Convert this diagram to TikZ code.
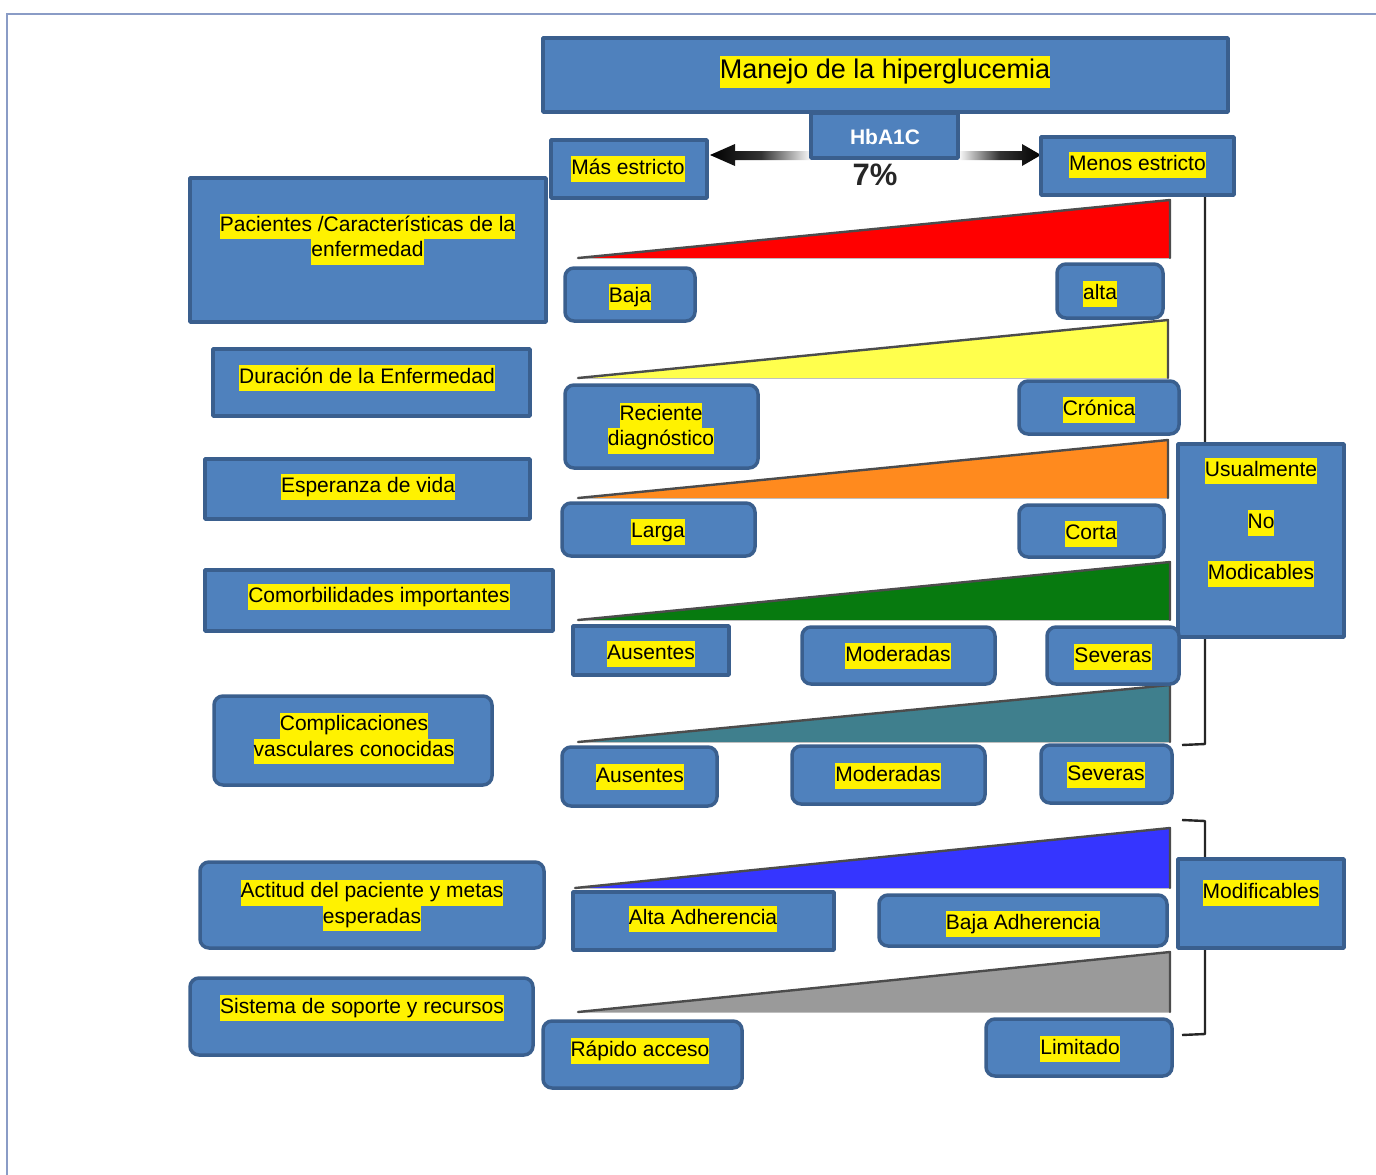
\documentclass[tikz,border=0pt]{standalone}
\usepackage{fontspec}
\setmainfont{Liberation Sans}
\usetikzlibrary{shapes.geometric}
\definecolor{boxfill}{HTML}{4F81BD}
\definecolor{boxline}{HTML}{3A5F8E}
\definecolor{framec}{HTML}{8A9CC6}
\definecolor{triRed}{HTML}{FF0000}
\definecolor{triYel}{HTML}{FFFF4D}
\definecolor{triOra}{HTML}{FF8A1E}
\definecolor{triGre}{HTML}{077A0F}
\definecolor{triTea}{HTML}{3F7F8D}
\definecolor{triBlu}{HTML}{3535FF}
\definecolor{triGra}{HTML}{9A9A9A}
\setlength{\fboxsep}{0pt}
\newcommand\hl[1]{\colorbox{yellow}{\strut #1}}
\newcommand\lblfont{\fontsize{21}{25.5}\selectfont}
\newcommand\mkbox[6][]{\node[boxst,#1,minimum width={(#5-#3)*1pt},minimum height={(#6-#4)*1pt}] (#2) at ({(#3+#5)/2},{(#4+#6)/2}) {};}
\newcommand\mkwedge[5]{\fill[#1] (#2,#4) -- (#3,#5) -- (#3,#4) -- cycle;
  \draw[black!25,line width=1pt] (#2,#4) -- (#3,#4);
  \draw[black!70,line width=2.4pt,line join=round,line cap=round] (#2,#4) -- (#3,#5) -- (#3,#4);}
\tikzset{
  boxst/.style={draw=boxline,fill=boxfill,line width=3.5pt,inner sep=0pt,rectangle,line join=round},
  rbox/.style={rounded corners=9pt},
  lbl/.style={font=\lblfont,inner sep=0pt,align=center,text=black,yshift=-2pt},
  brk/.style={draw=black!85,line width=2.4pt,line join=round}
}
\begin{document}
\begin{tikzpicture}[x=1pt,y=-1pt]
\useasboundingbox (0,0) rectangle (1376,1175);
% frame
\draw[framec,line width=2.5pt] (7,1176) -- (7,14) -- (1377,14);
% wedges
\mkwedge{triRed}{578}{1170}{258}{200}
\mkwedge{triYel}{578}{1168}{378}{320}
\mkwedge{triOra}{578}{1168}{498}{440}
\mkwedge{triGre}{578}{1170}{620}{562}
\mkwedge{triTea}{578}{1170}{742}{685}
\mkwedge{triBlu}{575}{1170}{888}{828}
\mkwedge{triGra}{578}{1170}{1012}{952}
% brackets
\coordinate (b1t) at (1205,190);
\coordinate (b1b) at (1205,744);
\coordinate (b1e) at (1182,745);
\draw[brk] (b1t) -- (b1b) -- (b1e);
\coordinate (b2s) at (1182,820);
\coordinate (b2t) at (1205,821);
\coordinate (b2b) at (1205,1034);
\coordinate (b2e) at (1182,1035);
\draw[brk] (b2s) -- (b2t) -- (b2b) -- (b2e);
% gradient arrows
\shade[left color=black,right color=white,middle color=black!80] (710,155) -- (735,144) -- (735,151) -- (812,151) -- (812,160) -- (735,160) -- (735,166) -- cycle;
\shade[left color=white,right color=black,middle color=black!80] (958,151) -- (1022,151) -- (1022,144) -- (1041,155) -- (1022,166) -- (1022,160) -- (958,160) -- cycle;
% boxes
\mkbox{title}{543}{38}{1228}{112}
\mkbox{hba}{811}{113}{958}{158}
\mkbox{mas}{551}{140}{707}{198}
\mkbox{menos}{1041}{137}{1234}{195}
\mkbox{pac}{190}{178}{546}{322}
\mkbox[rbox]{baja}{565}{268}{695}{321}
\mkbox[rbox]{alta}{1057}{264}{1163}{318}
\mkbox{dur}{213}{349}{530}{416}
\mkbox[rbox]{rec}{565}{385}{758}{468}
\mkbox[rbox]{cron}{1019}{381}{1179}{434}
\mkbox{esp}{205}{459}{530}{519}
\mkbox[rbox]{larga}{562}{503}{755}{556}
\mkbox[rbox]{corta}{1019}{505}{1164}{557}
\mkbox{usu}{1178}{444}{1344}{637}
\mkbox{com}{205}{570}{553}{631}
\mkbox{aus}{573}{626}{729}{675}
\mkbox[rbox]{mod}{802}{627}{995}{684}
\mkbox[rbox]{sev}{1047}{627}{1179}{684}
\mkbox[rbox]{compl}{214}{696}{492}{785}
\mkbox[rbox]{ausb}{562}{747}{717}{806}
\mkbox[rbox]{modb}{792}{746}{985}{804}
\mkbox[rbox]{sevb}{1041}{745}{1172}{803}
\mkbox[rbox]{act}{200}{862}{544}{948}
\mkbox{altaad}{573}{892}{834}{950}
\mkbox[rbox]{bajaad}{879}{895}{1167}{946}
\mkbox{modif}{1178}{859}{1344}{948}
\mkbox[rbox]{sis}{190}{978}{533}{1055}
\mkbox[rbox]{rap}{543}{1021}{742}{1088}
\mkbox[rbox]{lim}{986}{1019}{1172}{1076}
% labels
\node[lbl,font=\fontsize{27}{32}\selectfont] (tTitle) at (885,70) {\colorbox{yellow}{\strut Manejo de la hiperglucemia}};
\node[inner sep=0pt,text=white,font=\fontsize{21}{25}\selectfont\bfseries] (tHba) at (885,137) {HbA1C};
\node[inner sep=0pt,text=black!85,font=\fontsize{31}{34}\selectfont\bfseries] (tSeven) at (875,175) {7\%};
\node[lbl] (tMas) at (628,167) {\hl{Más estricto}};
\node[lbl] (tMenos) at (1137.5,163) {\hl{Menos estricto}};
\node[lbl] (tPac) at (367.5,237) {\hl{Pacientes /Características de la}\\\hl{enfermedad}};
\node[lbl] (tBaja) at (630,295) {\hl{Baja}};
\node[lbl] (tAlta) at (1100,292) {\hl{alta}};
\node[lbl] (tDur) at (367,376) {\hl{Duración de la Enfermedad}};
\node[lbl] (tRec) at (661,426) {\hl{Reciente}\\\hl{diagnóstico}};
\node[lbl] (tCron) at (1099,408) {\hl{Crónica}};
\node[lbl] (tEsp) at (368,485) {\hl{Esperanza de vida}};
\node[lbl] (tLarga) at (658,530) {\hl{Larga}};
\node[lbl] (tCorta) at (1091,532) {\hl{Corta}};
\node[lbl] (tUsu1) at (1261,469) {\hl{Usualmente}};
\node[lbl] (tUsu2) at (1261,521) {\hl{No}};
\node[lbl] (tUsu3) at (1261,572) {\hl{Modicables}};
\node[lbl] (tCom) at (379,595) {\hl{Comorbilidades importantes}};
\node[lbl] (tAus) at (651,652) {\hl{Ausentes}};
\node[lbl] (tMod) at (898,654) {\hl{Moderadas}};
\node[lbl] (tSev) at (1113,655) {\hl{Severas}};
\node[lbl] (tCompl) at (354,736.5) {\hl{Complicaciones}\\\hl{vasculares conocidas}};
\node[lbl] (tAusb) at (640,775) {\hl{Ausentes}};
\node[lbl] (tModb) at (888,774) {\hl{Moderadas}};
\node[lbl] (tSevb) at (1106,773) {\hl{Severas}};
\node[lbl] (tAct) at (372,903.5) {\hl{Actitud del paciente y metas}\\\hl{esperadas}};
\node[lbl] (tAltaad) at (703,917) {\hl{Alta Adherencia}};
\node[lbl] (tBajaad) at (1023,922) {\hl{Baja Adherencia}};
\node[lbl] (tModif) at (1261,891) {\hl{Modificables}};
\node[lbl] (tSis) at (362,1006) {\hl{Sistema de soporte y recursos}};
\node[lbl] (tRap) at (640,1049) {\hl{Rápido acceso}};
\node[lbl] (tLim) at (1080,1047) {\hl{Limitado}};
\end{tikzpicture}
\end{document}
